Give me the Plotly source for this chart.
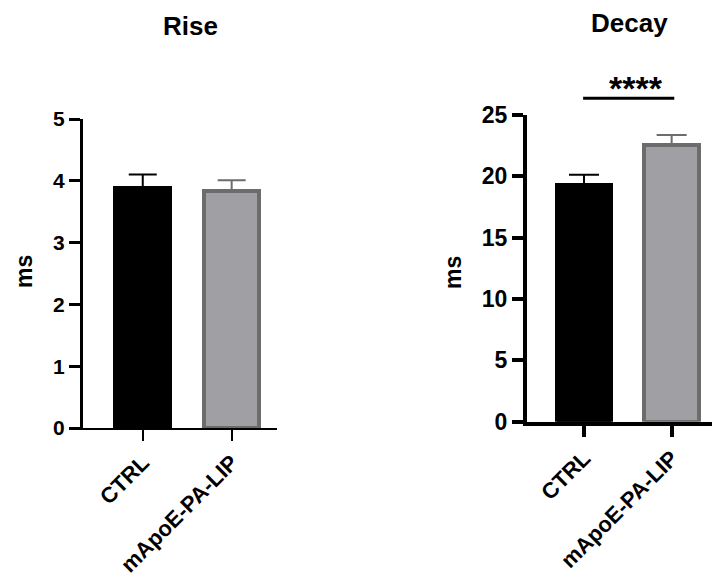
import plotly.graph_objects as go

groups = ["CTRL", "mApoE-PA-LIP"]
rise_mean = [3.89, 3.83]
rise_sem = [0.21, 0.18]
decay_mean = [19.32, 22.53]
decay_sem = [0.80, 0.84]
rise_ticks = [0, 1, 2, 3, 4, 5]
decay_ticks = [0, 5, 10, 15, 20, 25]
sig_text = "****"
sig_pair = [-0.01, 1.03]

fill_colors = ["#000000", "#a0a0a4"]
line_colors = ["#000000", "#6c6c6c"]

FONT = "Liberation Sans, Arial, sans-serif"
W, H = 720, 581
OFF = 8  # page body margin


def px(x):
    return (x - OFF) / W


def py(y):
    return 1 - (y - OFF) / H


fig = go.Figure()

for i, g in enumerate(groups):
    fig.add_trace(go.Bar(
        x=[i], y=[rise_mean[i]], width=0.62,
        marker=dict(color=fill_colors[i], line=dict(color=line_colors[i], width=4)),
        error_y=dict(type="data", array=[rise_sem[i]], arrayminus=[0], symmetric=False,
                     color=line_colors[i], thickness=2, width=14),
        xaxis="x", yaxis="y", showlegend=False))
    fig.add_trace(go.Bar(
        x=[i], y=[decay_mean[i]], width=0.62,
        marker=dict(color=fill_colors[i], line=dict(color=line_colors[i], width=4)),
        error_y=dict(type="data", array=[decay_sem[i]], arrayminus=[0], symmetric=False,
                     color=line_colors[i], thickness=2, width=15),
        xaxis="x2", yaxis="y2", showlegend=False))

xfont = dict(family=FONT, size=22, color="black", weight="bold")
yfont_l = dict(family=FONT, size=21, color="black", weight="bold")
yfont_r = dict(family=FONT, size=23, color="black", weight="bold")

fig.update_layout(
    width=W, height=H, margin=dict(l=0, r=0, t=0, b=0, autoexpand=False),
    paper_bgcolor="white", plot_bgcolor="white", bargap=0,
    xaxis=dict(domain=[px(83), px(277)], range=[-0.672, 1.51],
               tickmode="array", tickvals=[0, 1], ticktext=groups, tickangle=-45,
               showline=True, linecolor="black", linewidth=2,
               ticks="outside", ticklen=11, tickwidth=2, tickcolor="black",
               tickfont=xfont, showgrid=False, zeroline=False, anchor="y"),
    yaxis=dict(domain=[py(428), py(119)], range=[0, 5],
               tickmode="array", tickvals=rise_ticks,
               showline=True, linecolor="black", linewidth=3,
               ticks="outside", ticklen=11, tickwidth=3, tickcolor="black",
               tickfont=yfont_l, showgrid=False, zeroline=False, anchor="x"),
    xaxis2=dict(domain=[px(527), px(726)], range=[-0.65, 1.62],
                tickmode="array", tickvals=[0, 1], ticktext=groups, tickangle=-45,
                showline=True, linecolor="black", linewidth=4,
                ticks="outside", ticklen=11, tickwidth=4, tickcolor="black",
                tickfont=xfont, showgrid=False, zeroline=False, anchor="y2"),
    yaxis2=dict(domain=[py(421.7), py(115)], range=[0, 25],
                tickmode="array", tickvals=decay_ticks,
                showline=True, linecolor="black", linewidth=4,
                ticks="outside", ticklen=11, tickwidth=4, tickcolor="black",
                tickfont=yfont_r, showgrid=False, zeroline=False, anchor="x2"),
    shapes=[dict(type="line", xref="x2", yref="paper", x0=sig_pair[0], x1=sig_pair[1],
                 y0=py(98.3), y1=py(98.3), line=dict(color="black", width=3))],
    annotations=[
        dict(text="Rise", x=px(190), y=py(26), xref="paper", yref="paper",
             xanchor="center", yanchor="middle", showarrow=False,
             font=dict(family=FONT, size=26, color="black", weight="bold")),
        dict(text="Decay", x=px(629), y=py(23), xref="paper", yref="paper",
             xanchor="center", yanchor="middle", showarrow=False,
             font=dict(family=FONT, size=26, color="black", weight="bold")),
        dict(text="ms", x=px(24), y=py(272), xref="paper", yref="paper", textangle=-90,
             xanchor="center", yanchor="middle", showarrow=False,
             font=dict(family=FONT, size=23, color="black", weight="bold")),
        dict(text="ms", x=px(453), y=py(273), xref="paper", yref="paper", textangle=-90,
             xanchor="center", yanchor="middle", showarrow=False,
             font=dict(family=FONT, size=23, color="black", weight="bold")),
        dict(text=sig_text, x=(sig_pair[0] + sig_pair[1]) / 2 + 0.08, y=py(88), xref="x2", yref="paper",
             xanchor="center", yanchor="middle", showarrow=False,
             font=dict(family=FONT, size=34, color="black", weight="bold")),
    ],
)

fig.write_html("out.html")
